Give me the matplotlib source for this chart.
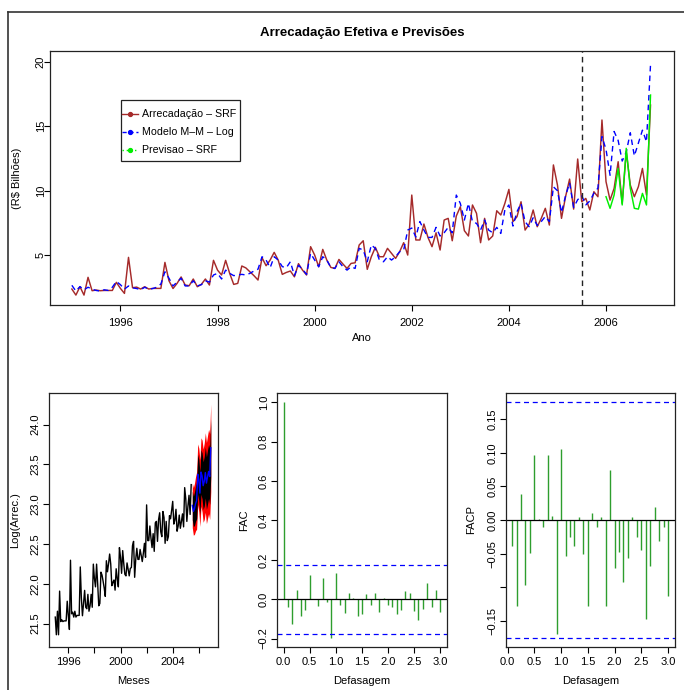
import numpy as np
import matplotlib
matplotlib.use("Agg")
import matplotlib.pyplot as plt
from matplotlib.lines import Line2D
from matplotlib.patches import Rectangle

plt.rcParams['font.family'] = ['Liberation Sans', 'DejaVu Sans']

# ---------------- data ----------------
start_year = 1995.0
arrecadacao = [
    2.36, 1.89, 2.54, 1.89, 3.27, 2.23, 2.28, 2.23, 2.25, 2.25, 2.25, 2.88,
    2.41, 2.02, 4.82, 2.46, 2.51, 2.36, 2.54, 2.36, 2.41, 2.41, 2.41, 4.43,
    3.00, 2.40, 2.80, 3.30, 2.67, 2.62, 3.14, 2.54, 2.72, 3.14, 2.67, 4.59,
    3.83, 3.45, 4.59, 3.58, 2.72, 2.80, 4.15, 4.00, 3.70, 3.40, 3.06, 4.79,
    4.17, 4.61, 5.21, 4.60, 3.50, 3.65, 3.76, 3.31, 4.33, 3.83, 3.45, 5.65,
    5.00, 4.09, 5.44, 4.61, 4.04, 3.96, 4.66, 4.30, 3.96, 4.35, 4.40, 5.78,
    6.11, 3.89, 4.87, 5.60, 4.87, 4.87, 5.52, 5.13, 4.74, 5.26, 5.96, 5.00,
    9.66, 6.17, 6.17, 7.41, 6.37, 5.65, 6.73, 5.39, 7.72, 7.85, 6.11, 8.03,
    8.75, 6.89, 6.48, 8.89, 8.24, 5.96, 7.85, 6.17, 6.48, 8.44, 8.11, 9.01,
    10.10, 7.59, 7.98, 9.14, 6.94, 7.40, 8.50, 7.20, 7.85, 8.63, 7.33, 12.00,
    10.44, 7.85, 9.53, 10.90, 8.57, 12.46, 9.14, 9.40, 8.50, 9.92, 9.53, 15.49,
    10.70, 9.27, 10.18, 12.25, 9.01, 13.03, 10.44, 9.53, 10.31, 11.73, 9.66, 16.65,
]
modelo = [
    2.65, 2.20, 2.55, 2.30, 2.50, 2.35, 2.25, 2.20, 2.30, 2.25, 2.50, 2.95,
    2.70, 2.35, 2.60, 2.45, 2.40, 2.30, 2.50, 2.35, 2.40, 2.50, 2.75, 3.70,
    3.20, 2.60, 2.90, 3.20, 2.60, 2.60, 3.00, 2.60, 2.70, 3.00, 2.90, 3.45,
    3.58, 3.14, 3.83, 3.58, 3.40, 3.45, 3.50, 3.45, 3.58, 3.76, 3.90, 4.87,
    4.61, 4.02, 4.87, 4.61, 4.10, 4.02, 4.48, 3.40, 4.20, 3.90, 3.50, 5.13,
    4.61, 4.09, 4.87, 4.61, 4.04, 3.96, 4.48, 4.09, 3.83, 4.09, 3.96, 5.52,
    5.39, 4.48, 5.78, 5.52, 4.61, 4.48, 4.87, 4.61, 4.87, 5.26, 5.39, 6.94,
    7.10, 6.40, 7.60, 6.94, 6.37, 6.37, 7.15, 6.48, 6.73, 7.15, 6.73, 9.66,
    9.01, 7.72, 9.01, 7.59, 7.46, 6.94, 7.72, 6.94, 6.73, 7.15, 6.68, 8.50,
    8.89, 7.25, 8.37, 9.01, 7.59, 7.20, 7.90, 7.30, 7.60, 8.00, 7.60, 10.30,
    10.00, 8.30, 9.60, 10.60, 8.70, 9.30, 9.60, 8.90, 9.20, 9.80, 10.20, 14.20,
    13.20, 11.20, 14.60, 13.90, 12.30, 13.00, 14.50, 12.70, 13.70, 14.70, 13.80, 19.80,
]
previsao = [9.53, 8.63, 9.66, 11.73, 8.89, 13.29, 10.18, 8.63, 8.57, 9.79, 8.89, 17.43]
previsao_start = 2006.0
corte = 2005.5
n_obs = 126  # Jan/1995 - Jun/2005

legend_labels = ['Arrecadação – SRF', 'Modelo M–M – Log', 'Previsao – SRF']

# prediction interval half-widths (log scale), horizons 1..18
hw95 = [0.28, 0.30, 0.32, 0.34, 0.36, 0.38, 0.40, 0.42, 0.43, 0.45, 0.46, 0.48,
        0.50, 0.51, 0.52, 0.53, 0.54, 0.55]
hw80 = [0.18, 0.19, 0.21, 0.22, 0.23, 0.25, 0.26, 0.27, 0.28, 0.29, 0.30, 0.31,
        0.32, 0.33, 0.34, 0.34, 0.35, 0.36]

fac = [1.0, -0.039, -0.124, 0.049, -0.083, -0.053, 0.122, 0.0, -0.036, 0.110,
       -0.012, -0.195, 0.131, -0.027, -0.068, 0.029, 0.008, -0.085, -0.076, 0.027,
       -0.032, 0.031, -0.065, 0.005, -0.032, -0.039, -0.073, -0.054, 0.044, 0.032,
       -0.061, -0.107, -0.049, 0.081, -0.039, 0.048, -0.065]
facp = [-0.038, -0.128, 0.039, -0.096, -0.049, 0.097, 0.001, -0.011, 0.096, 0.006,
        -0.170, 0.105, -0.053, -0.026, -0.038, 0.004, -0.050, -0.128, 0.010, -0.010,
        0.005, -0.128, 0.075, -0.071, -0.047, -0.092, -0.056, 0.005, -0.026, -0.044,
        -0.148, -0.069, 0.020, -0.031, -0.011, -0.113]
conf = 0.176

# ---------------- figure ----------------
W, H = 684, 690
fig = plt.figure(figsize=(W / 100, H / 100), dpi=100)

def ax_px(l, t, r, b):
    return fig.add_axes([l / W, 1 - b / H, (r - l) / W, (b - t) / H])

def fx(x):
    return x / W

def fy(y):
    return 1 - y / H

FS = 8
RED = '#A52A2A'
LIME = '#00EE00'

def style(ax, xpad=2.5, ypad=2.0):
    for s in ax.spines.values():
        s.set_linewidth(0.9)
        s.set_color('#222222')
    ax.tick_params(direction='out', length=4, width=0.8, labelsize=FS)
    ax.tick_params(axis='x', pad=xpad)
    ax.tick_params(axis='y', pad=ypad)
    for lab in ax.get_yticklabels():
        lab.set_rotation(90)
        lab.set_va('center')

# figure frame lines
fig.add_artist(Line2D([fx(8), fx(8)], [0, fy(12)], transform=fig.transFigure,
                      color='#333333', lw=1.2))
fig.add_artist(Line2D([fx(8), 1], [fy(12), fy(12)], transform=fig.transFigure,
                      color='#333333', lw=1.2))

# ---- top panel ----
t = start_year + np.arange(len(arrecadacao)) / 12.0
tp = previsao_start + np.arange(len(previsao)) / 12.0
ax = ax_px(50, 51, 674, 305)
ax.plot(t, arrecadacao, color=RED, lw=1.05)
ax.plot(t, modelo, color='blue', lw=1.0, linestyle=(0, (4, 3)))
ax.plot(tp, previsao, color=LIME, lw=1.05)
ax.axvline(corte, color='#222222', lw=1.0, linestyle=(0, (4, 3)))
ax.set_xlim(1994.55, 2007.40)
ax.set_ylim(1.12, 20.85)
ax.set_xticks([1996, 1998, 2000, 2002, 2004, 2006])
ax.set_yticks([5, 10, 15, 20])
style(ax, xpad=5.0, ypad=-1.0)
ax.set_ylabel(r'(R\$ Bilhões)', fontsize=FS)
ax.yaxis.set_label_coords(-0.045, 0.5)
ax.set_xlabel('Ano', fontsize=FS)
ax.xaxis.set_label_coords(0.5, -0.11)
fig.text(fx(362), fy(33), 'Arrecadação Efetiva e Previsões', ha='center', va='center',
         fontsize=9.5, fontweight='bold')

# manual legend (R style box)
fig.add_artist(Rectangle((fx(120.7), fy(161)), fx(240) - fx(120.7), fy(100) - fy(161),
                         transform=fig.transFigure, fill=True, facecolor='white',
                         edgecolor='#222222', lw=0.9, zorder=5))
leg_styles = [
    dict(color=RED, linestyle='-'),
    dict(color='blue', linestyle=(0, (3, 2))),
    dict(color=LIME, linestyle=(0, (1, 2))),
]
for k, (lab, st) in enumerate(zip(legend_labels, leg_styles)):
    yy = 114 + 18 * k
    fig.add_artist(Line2D([fx(122), fx(138)], [fy(yy), fy(yy)], transform=fig.transFigure,
                          lw=1.0, zorder=6, **st))
    fig.add_artist(Line2D([fx(130)], [fy(yy)], transform=fig.transFigure, marker='o',
                          markersize=2.8, color=st['color'], linestyle='none', zorder=6))
    fig.text(fx(141.5), fy(yy), lab, ha='left', va='center', fontsize=7.7, zorder=6)

# ---- log panel ----
axl = ax_px(49, 393, 218, 647)
red = np.array(arrecadacao)
blue = np.array(modelo)
logobs = np.log(red[:n_obs] * 1e9)
tf = start_year + np.arange(n_obs, len(arrecadacao)) / 12.0
center = np.log(blue[n_obs:] * 1e9)
h95 = np.array(hw95)
h80 = np.array(hw80)
axl.fill_between(tf, center - h95, center + h95, color='red', lw=0)
axl.fill_between(tf, center - h80, center + h80, color='black', lw=0)
axl.plot(t[:n_obs], logobs, color='black', lw=1.0)
axl.plot(tf, center, color='blue', lw=1.0)
axl.set_xlim(1994.52, 2007.47)
axl.set_ylim(21.206, 24.397)
axl.set_xticks([1996, 1998, 2000, 2002, 2004, 2006])
axl.set_xticklabels(['1996', '', '2000', '', '2004', ''])
axl.set_yticks([21.5, 22.0, 22.5, 23.0, 23.5, 24.0])
axl.set_yticklabels(['21.5', '22.0', '22.5', '23.0', '23.5', '24.0'])
style(axl, xpad=3.0)
axl.set_ylabel('Log(Arrec.)', fontsize=FS)
axl.yaxis.set_label_coords(-0.172, 0.5)
axl.set_xlabel('Meses', fontsize=FS)
axl.xaxis.set_label_coords(0.5, -0.114)

GREEN = '#2E9E2E'

# ---- ACF ----
axa = ax_px(277, 393, 447, 647)
lags = np.arange(len(fac)) / 12.0
axa.vlines(lags, 0, fac, color=GREEN, lw=1.0)
axa.axhline(0, color='black', lw=0.9)
axa.axhline(conf, color='blue', lw=0.9, linestyle=(0, (4, 3)))
axa.axhline(-conf, color='blue', lw=0.9, linestyle=(0, (4, 3)))
axa.set_xlim(-0.127, 3.13)
axa.set_ylim(-0.243, 1.048)
axa.set_xticks([0, 0.5, 1.0, 1.5, 2.0, 2.5, 3.0])
axa.set_xticklabels(['0.0', '0.5', '1.0', '1.5', '2.0', '2.5', '3.0'])
axa.set_yticks([-0.2, 0.0, 0.2, 0.4, 0.6, 0.8, 1.0])
axa.set_yticklabels(['\u22120.2', '0.0', '0.2', '0.4', '0.6', '0.8', '1.0'])
style(axa, xpad=3.0)
axa.set_ylabel('FAC', fontsize=FS)
axa.yaxis.set_label_coords(-0.165, 0.5)
axa.set_xlabel('Defasagem', fontsize=FS)
axa.xaxis.set_label_coords(0.5, -0.114)

# ---- PACF ----
axp = ax_px(506, 393, 675, 647)
plags = np.arange(1, len(facp) + 1) / 12.0
axp.vlines(plags, 0, facp, color=GREEN, lw=1.0)
axp.axhline(0, color='black', lw=0.9)
axp.axhline(conf, color='blue', lw=0.9, linestyle=(0, (4, 3)))
axp.axhline(-conf, color='blue', lw=0.9, linestyle=(0, (4, 3)))
axp.set_xlim(-0.03, 3.13)
axp.set_ylim(-0.189, 0.189)
axp.set_xticks([0, 0.5, 1.0, 1.5, 2.0, 2.5, 3.0])
axp.set_xticklabels(['0.0', '0.5', '1.0', '1.5', '2.0', '2.5', '3.0'])
axp.set_yticks([-0.15, -0.10, -0.05, 0.0, 0.05, 0.10, 0.15])
axp.set_yticklabels(['\u22120.15', '', '\u22120.05', '0.00', '0.05', '0.10', '0.15'])
style(axp, xpad=3.0)
axp.set_ylabel('FACP', fontsize=FS)
axp.yaxis.set_label_coords(-0.178, 0.5)
axp.set_xlabel('Defasagem', fontsize=FS)
axp.xaxis.set_label_coords(0.5, -0.114)

fig.savefig('out.png', dpi=100)
